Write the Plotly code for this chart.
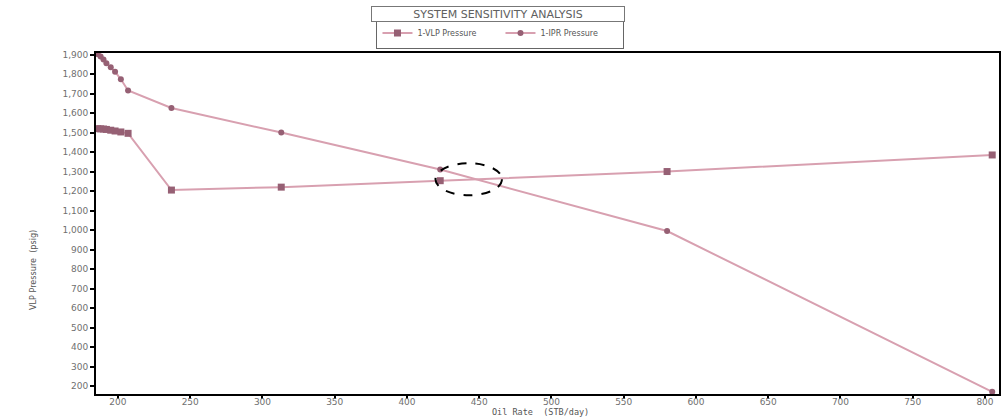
import numpy as np
import plotly.graph_objects as go

# ---- data ----
oil_rate = [186, 188, 190, 192, 195, 198, 202, 207, 237, 313, 423, 580, 805]
vlp_pressure = [1520, 1519, 1518, 1516, 1512, 1508, 1503, 1496, 1205, 1220, 1253, 1300, 1385]
ipr_pressure = [1902, 1890, 1875, 1856, 1835, 1812, 1773, 1716, 1626, 1500, 1310, 995, 170]

x_ticks = list(range(200, 801, 50))
y_ticks = list(range(200, 1901, 100))

LINE_COLOR = "rgb(216,160,176)"
MARK_COLOR = "rgb(150,96,116)"
TICK_FONT = dict(family="DejaVu Sans, Verdana, sans-serif", size=9, color="#707070")

fig = go.Figure()
fig.add_trace(go.Scatter(
    x=oil_rate, y=vlp_pressure, name="1-VLP Pressure", mode="lines+markers",
    line=dict(color=LINE_COLOR, width=2),
    marker=dict(symbol="square", size=7, color=MARK_COLOR),
))
fig.add_trace(go.Scatter(
    x=oil_rate, y=ipr_pressure, name="1-IPR Pressure", mode="lines+markers",
    line=dict(color=LINE_COLOR, width=2),
    marker=dict(symbol="circle", size=6, color=MARK_COLOR),
))

# operating point: intersection of the two curves, highlighted with dashed ellipse
xr = np.array(oil_rate, dtype=float)
d = np.array(vlp_pressure, dtype=float) - np.array(ipr_pressure, dtype=float)
i = int(np.where(np.sign(d[:-1]) != np.sign(d[1:]))[0][-1])
t = d[i] / (d[i] - d[i + 1])
xi = xr[i] + t * (xr[i + 1] - xr[i])
yi = vlp_pressure[i] + t * (vlp_pressure[i + 1] - vlp_pressure[i])
fig.add_shape(type="circle", xref="x", yref="y",
              x0=xi - 28, x1=xi + 18, y0=yi - 82, y1=yi + 82,
              line=dict(color="black", width=2, dash="dash"))

fig.update_layout(
    width=1007, height=417,
    margin=dict(l=96, r=8, t=53, b=23, autoexpand=False),
    paper_bgcolor="white", plot_bgcolor="white",
    showlegend=True,
    legend=dict(
        orientation="h", xref="container", yref="container",
        x=0.497, xanchor="center", y=1 - 33 / 417, yanchor="middle",
        font=dict(family="DejaVu Sans, sans-serif", size=8, color="#555555"),
        bordercolor="#666666", borderwidth=1, itemwidth=30, entrywidth=78,
        tracegroupgap=0, bgcolor="rgba(255,255,255,0)",
    ),
    xaxis=dict(
        range=[184.8, 809.7], tickvals=x_ticks, ticks="outside", ticklen=3,
        tickwidth=1.5, tickcolor="black", showgrid=False, zeroline=False,
        showline=True, linecolor="black", linewidth=2, mirror=True,
        tickfont=TICK_FONT, automargin=False, ticklabelstandoff=-5,
    ),
    yaxis=dict(
        range=[159, 1908], tickvals=y_ticks, tickformat=",", ticks="outside",
        ticklen=4, tickwidth=1.5, tickcolor="black", showgrid=False,
        zeroline=False, showline=True, linecolor="black", linewidth=2,
        mirror=True, tickfont=TICK_FONT, automargin=False,
    ),
    annotations=[
        dict(text="SYSTEM SENSITIVITY ANALYSIS", xref="paper", yref="paper",
             x=(498 - 96) / 903, y=(394 - 13.5) / 341, xanchor="center", yanchor="middle",
             showarrow=False, width=250, height=12,
             font=dict(family="DejaVu Sans, sans-serif", size=11, color="#606060"),
             bordercolor="#777777", borderwidth=1, borderpad=1, bgcolor="white"),
        dict(text="Oil Rate  (STB/day)", xref="paper", yref="paper",
             x=(540 - 96) / 903, y=(394 - 412) / 341, xanchor="center", yanchor="middle",
             showarrow=False,
             font=dict(family="DejaVu Sans Mono, monospace", size=8.5, color="#555555")),
        dict(text="VLP Pressure  (psig)", xref="paper", yref="paper",
             x=(33 - 96) / 903, y=(394 - 270) / 341, xanchor="center", yanchor="middle",
             showarrow=False, textangle=-90,
             font=dict(family="Liberation Sans Narrow, DejaVu Sans Condensed, Liberation Sans, sans-serif",
                       size=9, color="#555555")),
    ],
)

fig.write_html("out.html", config={"displayModeBar": False},
               post_script="document.body.style.margin='0';document.body.style.overflow='hidden';")
